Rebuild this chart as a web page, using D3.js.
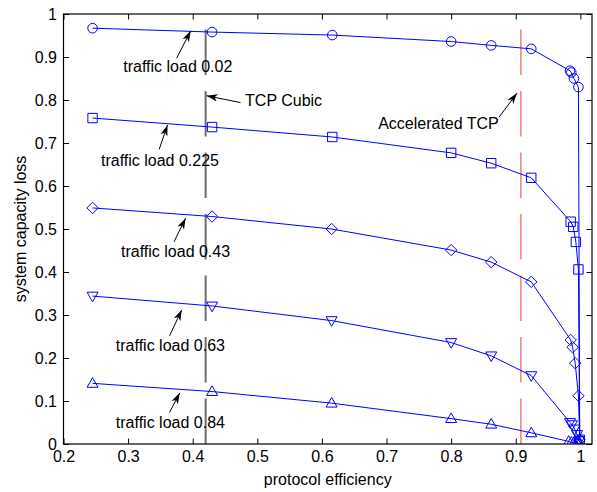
<!DOCTYPE html>
<html>
<head>
<meta charset="utf-8">
<script src="https://cdn.jsdelivr.net/npm/d3@7"></script>
<style>
  body { margin: 0; background: #fff; }
  svg { display: block; font-family: "Liberation Sans", Arial, Helvetica, sans-serif; }
</style>
</head>
<body>
<script>
'use strict';
// values
const loads = ['0.02', '0.225', '0.43', '0.63', '0.84'];
const markerTypes = ['circle', 'square', 'diamond', 'triDown', 'triUp'];

const eff002 = [0.245, 0.430, 0.616, 0.800, 0.862, 0.924, 0.984, 0.986, 0.990, 0.997, 0.999];
const loss002 = [0.967, 0.958, 0.951, 0.936, 0.927, 0.919, 0.868, 0.864, 0.850, 0.830, 0.008];
const eff0225 = [0.245, 0.430, 0.616, 0.800, 0.862, 0.924, 0.985, 0.989, 0.993, 0.997, 0.999];
const loss0225 = [0.758, 0.737, 0.714, 0.677, 0.653, 0.619, 0.517, 0.505, 0.470, 0.406, 0.010];
const eff043 = [0.245, 0.430, 0.615, 0.800, 0.862, 0.924, 0.985, 0.988, 0.992, 0.997, 0.999];
const loss043 = [0.549, 0.529, 0.500, 0.451, 0.423, 0.377, 0.242, 0.225, 0.188, 0.112, 0.010];
const eff063 = [0.245, 0.430, 0.615, 0.800, 0.862, 0.924, 0.984, 0.987, 0.991, 0.995, 0.998];
const loss063 = [0.344, 0.321, 0.287, 0.236, 0.205, 0.159, 0.050, 0.045, 0.035, 0.022, 0.008];
const eff084 = [0.245, 0.430, 0.615, 0.800, 0.862, 0.924, 0.982, 0.986, 0.990, 0.995, 0.999];
const loss084 = [0.141, 0.122, 0.095, 0.059, 0.046, 0.026, 0.006, 0.004, 0.003, 0.002, 0.001];

const xTicks = [0.2, 0.3, 0.4, 0.5, 0.6, 0.7, 0.8, 0.9, 1];
const yTicks = [0, 0.1, 0.2, 0.3, 0.4, 0.5, 0.6, 0.7, 0.8, 0.9, 1];

// vertical reference lines
const refX = [0.42, 0.908];
const refColor = ['#6e6e6e', '#f03a3a'];
const refWidth = [2, 1];

// annotations (data coordinates)
const annoText = ['traffic load 0.02', 'TCP Cubic', 'traffic load 0.225', 'traffic load 0.43',
  'traffic load 0.63', 'traffic load 0.84', 'Accelerated TCP'];
const annoPos = [[0.2925, 0.877], [0.481, 0.798], [0.258, 0.660], [0.289, 0.447],
  [0.281, 0.229], [0.281, 0.050], [0.687, 0.746]];
const arrowFrom = [[0.375, 0.897], [0.474, 0.794], [0.348, 0.685], [0.371, 0.470],
  [0.364, 0.251], [0.364, 0.073], [0.874, 0.760]];
const arrowTo = [[0.397, 0.961], [0.4215, 0.810], [0.361, 0.742], [0.389, 0.525],
  [0.383, 0.312], [0.380, 0.119], [0.902, 0.816]];

const series = [
  { eff: eff002, loss: loss002 },
  { eff: eff0225, loss: loss0225 },
  { eff: eff043, loss: loss043 },
  { eff: eff063, loss: loss063 },
  { eff: eff084, loss: loss084 }
].map(function(s, i) {
  return {
    load: loads[i],
    marker: markerTypes[i],
    points: s.eff.map(function(e, j) { return { x: e, y: s.loss[j] }; })
  };
});

const W = 597, H = 492;
const padL = 63.5, padR = 592, padT = 14, padB = 444;
const fontSize = '16px';
const blue = '#0000ff';

const svg = d3.select(document.body).append('svg')
  .attr('width', W).attr('height', H);

const x = d3.scaleLinear().domain([0.2, 1.018]).range([padL, padR]);
const y = d3.scaleLinear().domain([0, 1]).range([padB, padT]);
const fmt = function(d) { return String(+d.toFixed(1)); };

// clip
const defs = svg.append('defs');
defs.append('clipPath').attr('id', 'plotclip')
  .append('rect').attr('x', padL).attr('y', padT)
  .attr('width', padR - padL).attr('height', padB - padT);

defs.append('marker')
  .attr('id', 'arrowhead')
  .attr('markerUnits', 'userSpaceOnUse')
  .attr('markerWidth', 14).attr('markerHeight', 10)
  .attr('viewBox', '-12 -5 14 10')
  .attr('refX', 0).attr('refY', 0)
  .attr('orient', 'auto')
  .append('path')
  .attr('d', 'M0,0 L-11,-3.6 L-8,0 L-11,3.6 Z')
  .attr('fill', '#000');

// reference lines, dashed from the bottom up
const plot = svg.append('g').attr('clip-path', 'url(#plotclip)');
plot.selectAll('line.ref')
  .data(refX)
  .enter().append('line')
  .attr('class', 'ref')
  .attr('x1', function(d) { return x(d); })
  .attr('x2', function(d) { return x(d); })
  .attr('y1', y(0)).attr('y2', y(1))
  .attr('stroke', function(d, i) { return refColor[i]; })
  .attr('stroke-width', function(d, i) { return refWidth[i]; })
  .attr('stroke-dasharray', '45.5,16');

// series lines
const line = d3.line().x(function(d) { return x(d.x); }).y(function(d) { return y(d.y); });
plot.selectAll('path.series')
  .data(series)
  .enter().append('path')
  .attr('class', 'series')
  .attr('d', function(d) { return line(d.points); })
  .attr('fill', 'none')
  .attr('stroke', blue)
  .attr('stroke-width', 1);

function markerPath(type) {
  if (type === 'circle') {
    const p = d3.path(); p.arc(0, 0, 4.8, 0, 2 * Math.PI); p.closePath(); return p.toString();
  }
  if (type === 'square') return 'M-4.7,-4.7H4.7V4.7H-4.7Z';
  if (type === 'diamond') return 'M0,-5.7L5.7,0L0,5.7L-5.7,0Z';
  if (type === 'triUp') return 'M0,-5.7L5.5,3.9L-5.5,3.9Z';
  return 'M0,5.7L5.5,-3.9L-5.5,-3.9Z';
}

series.forEach(function(s) {
  plot.append('g').selectAll('path')
    .data(s.points)
    .enter().append('path')
    .attr('transform', function(d) { return 'translate(' + x(d.x) + ',' + y(d.y) + ')'; })
    .attr('d', markerPath(s.marker))
    .attr('fill', 'none')
    .attr('stroke', blue)
    .attr('stroke-width', 1);
});

// axes, ticks inward on all four sides
const xAxis = svg.append('g').attr('transform', 'translate(0,' + padB + ')')
  .call(d3.axisBottom(x).tickValues(xTicks).tickFormat(fmt)
    .tickSizeInner(-5.5).tickSizeOuter(0).tickPadding(6.5));
const yAxis = svg.append('g').attr('transform', 'translate(' + padL + ',0)')
  .call(d3.axisLeft(y).tickValues(yTicks).tickFormat(fmt)
    .tickSizeInner(-5.5).tickSizeOuter(0).tickPadding(6.5));
const xTop = svg.append('g').attr('transform', 'translate(0,' + padT + ')')
  .call(d3.axisTop(x).tickValues(xTicks).tickFormat('')
    .tickSizeInner(-5.5).tickSizeOuter(0));
const yRight = svg.append('g').attr('transform', 'translate(' + padR + ',0)')
  .call(d3.axisRight(y).tickValues(yTicks).tickFormat('')
    .tickSizeInner(-5.5).tickSizeOuter(0));

[xAxis, yAxis, xTop, yRight].forEach(function(g) {
  g.select('.domain').remove();
  g.selectAll('.tick line').attr('stroke', '#000');
  g.selectAll('.tick text')
    .attr('fill', '#000')
    .style('font-size', fontSize)
    .style('font-family', '"Liberation Sans", Arial, sans-serif');
});

svg.append('rect')
  .attr('x', padL).attr('y', padT)
  .attr('width', padR - padL).attr('height', padB - padT)
  .attr('fill', 'none').attr('stroke', '#000').attr('stroke-width', 1.2);

// annotations
svg.append('g').selectAll('line')
  .data(arrowFrom)
  .enter().append('line')
  .attr('x1', function(d) { return x(d[0]); })
  .attr('y1', function(d) { return y(d[1]); })
  .attr('x2', function(d, i) { return x(arrowTo[i][0]); })
  .attr('y2', function(d, i) { return y(arrowTo[i][1]); })
  .attr('stroke', '#000').attr('stroke-width', 1)
  .attr('marker-end', 'url(#arrowhead)');

svg.append('g').selectAll('text')
  .data(annoText)
  .enter().append('text')
  .attr('x', function(d, i) { return x(annoPos[i][0]); })
  .attr('y', function(d, i) { return y(annoPos[i][1]); })
  .attr('dy', '0.35em')
  .style('font-size', fontSize)
  .attr('fill', '#000')
  .text(function(d) { return d; });

// axis titles
svg.append('text')
  .attr('x', (padL + padR) / 2).attr('y', 485)
  .attr('text-anchor', 'middle')
  .style('font-size', fontSize)
  .text('protocol efficiency');

svg.append('text')
  .attr('transform', 'translate(26,' + (padT + padB) / 2 + ') rotate(-90)')
  .attr('text-anchor', 'middle')
  .style('font-size', fontSize)
  .text('system capacity loss');
</script>
</body>
</html>
